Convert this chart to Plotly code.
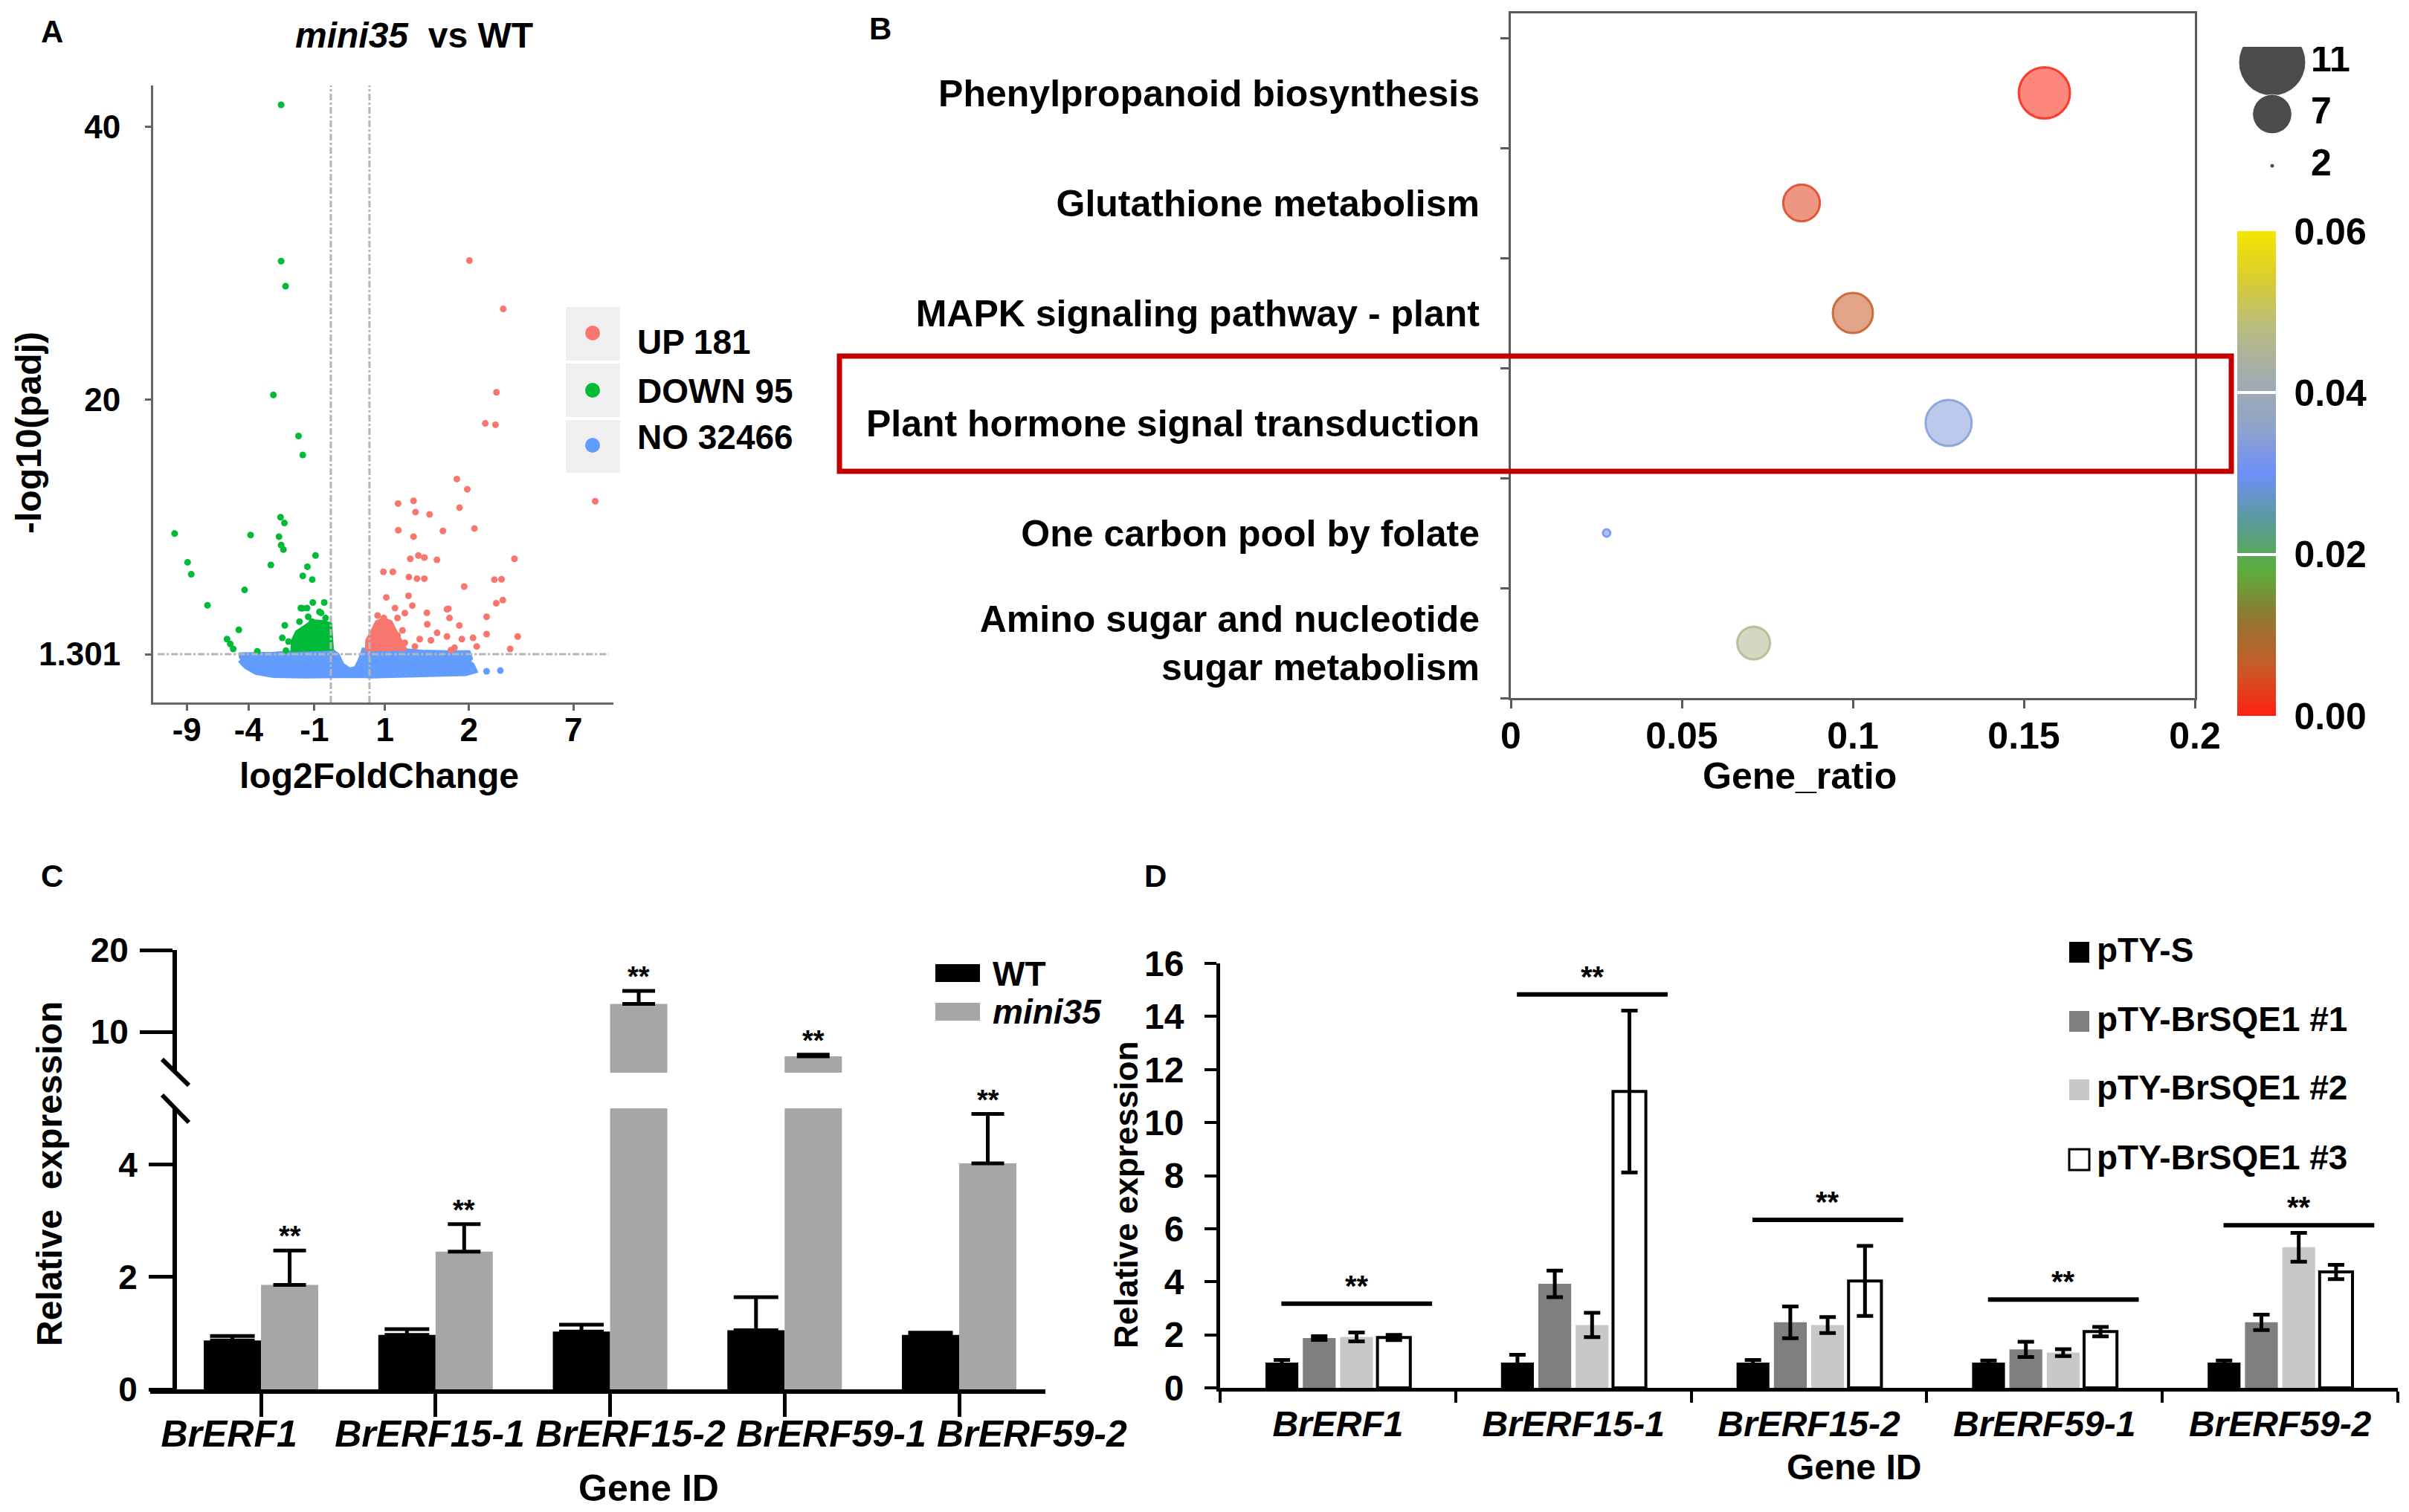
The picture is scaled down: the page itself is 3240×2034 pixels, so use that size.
import plotly.graph_objects as go

W, H = 3240, 2034
FONT = "Liberation Sans, Arial, sans-serif"

# ---------------- A: volcano plot, mini35 vs WT ----------------
# x = place on the drawn log2FoldChange axis (the dashed cut-offs are at -1 and 1)
# y = -log10(padj)
up_x = [6.17, 7.92, 7.57, 6.99, 7.52, 12.68, 5.52, 6.06, 5.66, 3.28, 2.48, 3.38, 4.11,
        2.49, 3.28, 4.80, 6.43, 3.11, 3.53, 3.84, 4.49, 8.50, 1.72, 2.21, 3.04, 3.46,
        3.84, 7.46, 7.83, 5.90, 1.87, 3.02, 7.56, 7.90, 5.08, 3.97, 2.32, 3.22, 1.42,
        1.74, 2.45, 2.83, 5.01, 5.14, 3.99, 5.65, 7.06, 7.06, 8.67, 8.28, 6.55, 6.36,
        5.78, 5.01, 4.50, 3.60, 4.18, 2.83, 3.35, 5.40, 2.71, 5.21, 2.45]
up_y = [30.19, 26.64, 20.52, 18.24, 18.14, 12.53, 14.16, 13.41, 12.06, 12.56, 12.36, 11.73, 11.56,
        10.40, 9.93, 10.35, 10.53, 8.30, 8.55, 8.40, 8.23, 8.30, 7.35, 7.35, 6.97, 6.85,
        6.85, 6.77, 6.80, 6.27, 5.47, 5.59, 5.04, 5.27, 4.64, 4.34, 4.69, 4.87, 4.14,
        3.96, 3.96, 4.32, 4.60, 3.96, 3.50, 3.41, 4.05, 2.78, 2.60, 1.69, 1.87, 2.50,
        2.41, 2.60, 2.87, 2.41, 2.32, 2.14, 1.87, 1.78, 3.05, 1.60, 2.69]
down_x = [-3.57, -3.57, -3.34, -3.97, -2.67, -2.45, -3.60, -3.40, -3.68, -3.57, -3.45, -5.15,
          -9.08, -8.41, -8.22, -4.10, -2.21, -1.79, -2.45, -1.96, -5.46, -7.38, -2.47, -1.93,
          -1.34, -1.51, -5.76, -6.37, -6.20, -6.05, -4.80, -3.38, -3.51, -3.32, -2.55, -2.23,
          -1.59, -2.17, -1.27, -2.62, -1.97, -1.46, -3.19, -2.74]
down_y = [41.62, 30.15, 28.31, 20.33, 17.32, 15.92, 11.36, 10.93, 9.93, 9.31, 8.98, 10.05,
          10.16, 8.05, 7.17, 7.85, 7.72, 8.55, 7.05, 6.78, 6.02, 4.89, 4.67, 5.10,
          5.10, 4.34, 3.09, 2.41, 2.05, 1.69, 1.51, 3.42, 2.50, 1.56, 4.69, 4.69,
          4.41, 4.05, 3.96, 3.69, 3.69, 3.50, 2.23, 1.96]
# outlines of the solid clouds where points merge
up_core_x = [0.91, 0.94, 1.17, 1.42, 1.74, 2.06, 2.32, 2.58, 2.83]
up_core_y = [1.50, 2.32, 2.87, 3.60, 3.78, 3.60, 2.87, 2.14, 1.56]
down_core_x = [-2.94, -2.91, -2.71, -2.30, -1.91, -1.40, -1.08, -0.99]
down_core_y = [1.45, 2.29, 2.87, 3.20, 3.63, 3.60, 3.45, 1.56]
no_band_x = [-5.76, -4.86, -3.96, -2.94, -1.01, -0.69, -0.44, -0.05, 0.33, 0.55, 0.72, 2.45,
             3.73, 5.01, 6.10, 6.19, 6.04, 6.30, 6.42, 5.97, 4.88, 3.73, 2.45, 1.17, 0.40,
             -0.63, -2.42, -3.96, -4.86, -5.37, -5.69]
no_band_y = [1.23, 1.20, 1.27, 1.38, 1.56, 1.23, 0.50, 0.10, 0.23, 0.87, 1.56, 1.56,
             1.41, 1.38, 1.38, 1.01, 0.78, 0.47, 0.10, -0.08, -0.13, -0.19, -0.26, -0.26, -0.22,
             -0.26, -0.26, -0.22, 0.00, 0.41, 0.90]
no_x = [-5.56, 7.06, 7.77]
no_y = [1.09, 0.05, 0.10]
vol_xticks = [-8.45, -5.25, -1.85, 1.8, 6.15, 11.55]
vol_xlabels = ["-9", "-4", "-1", "1", "2", "7"]
vol_yticks = [1.301, 20, 40]
vol_ylabels = ["1.301", "20", "40"]
fc_cut = [-1, 1]
padj_cut = 1.301
vol_groups = ["UP 181", "DOWN 95", "NO 32466"]

# ---------------- B: KEGG enrichment ----------------
pathways = ["Phenylpropanoid biosynthesis", "Glutathione metabolism",
            "MAPK signaling pathway - plant", "Plant hormone signal transduction",
            "One carbon pool by folate", "Amino sugar and nucleotide<br>sugar metabolism"]
gene_ratio = [0.156, 0.085, 0.100, 0.128, 0.028, 0.071]
gene_count = [11, 6, 7, 9, 2, 5]
pvalue = [0.0005, 0.0035, 0.006, 0.034, 0.030, 0.046]
ratio_ticks = [0, 0.05, 0.1, 0.15, 0.2]
ratio_labels = ["0", "0.05", "0.1", "0.15", "0.2"]
count_keys = [11, 7, 2]
p_ticks = [0, 0.02, 0.04, 0.06]
p_labels = ["0.00", "0.02", "0.04", "0.06"]

# ---------------- C: qPCR mini35 vs WT ----------------
genes = ["BrERF1", "BrERF15-1", "BrERF15-2", "BrERF59-1", "BrERF59-2"]
wt_mean = [0.87, 0.97, 1.03, 1.05, 0.97]
wt_err = [0.08, 0.10, 0.12, 0.59, 0.04]
mini_mean = [1.86, 2.45, 13.4, 7.0, 4.02]
mini_err = [0.61, 0.49, 1.6, 0.2, 0.88]
c_low_ticks = [0, 2, 4]
c_high_ticks = [10, 20]

# ---------------- D: qPCR silencing lines ----------------
lines_d = ["pTY-S", "pTY-BrSQE1 #1", "pTY-BrSQE1 #2", "pTY-BrSQE1 #3"]
d_mean = [[0.95, 0.95, 0.95, 0.95, 0.95],
          [1.88, 3.92, 2.47, 1.45, 2.47],
          [1.92, 2.37, 2.37, 1.33, 5.30],
          [1.90, 11.17, 4.03, 2.12, 4.37]]
d_err = [[0.10, 0.30, 0.10, 0.08, 0.08],
         [0.07, 0.50, 0.60, 0.29, 0.29],
         [0.17, 0.46, 0.30, 0.13, 0.54],
         [0.10, 3.05, 1.32, 0.18, 0.27]]
d_sig_y = [3.17, 14.83, 6.33, 3.33, 6.13]

# ---------------- helpers (pixel placement on the 3240x2034 page) ----------------
def fx(x):
    return x / W


def fy(y):
    return 1 - y / H


def xdom(a, b):
    return [a / W, b / W]


def ydom(top, bottom):
    return [1 - bottom / H, 1 - top / H]


def font(size, bold=True, italic=False, color="black"):
    return dict(family=FONT, size=size, color=color,
                weight="bold" if bold else "normal",
                style="italic" if italic else "normal")


def label(s, x, y, size, xa="center", ya="middle", angle=0, bold=True, italic=False):
    return dict(text=s, x=fx(x), y=fy(y), xref="paper", yref="paper", showarrow=False,
                xanchor=xa, yanchor=ya, textangle=angle, font=font(size, bold, italic))


UP, DOWN, NO = "#F8766D", "#00BA38", "#619CFF"
CS = [[0.0, "#ff2010"], [0.1, "#c85a28"], [0.2, "#927630"], [0.3, "#5cae3c"],
      [0.4, "#5a9a98"], [0.5, "#6e8ff8"], [0.6, "#90a4c8"], [0.7, "#a4acae"],
      [0.8, "#b8bc80"], [0.9, "#d8cc30"], [1.0, "#f5e600"]]


def bubble_size(n):
    return 10 + ((n - 2) / 9) ** 0.5 * 59


def key_size(n):
    return 6 + (n - 2) / 9 * 84


fig = go.Figure()

# ---- A traces
fig.add_trace(go.Scatter(x=no_band_x, y=no_band_y, mode="lines", fill="toself", fillcolor=NO,
                         line=dict(color=NO, width=8), xaxis="x", yaxis="y"))
fig.add_trace(go.Scatter(x=no_x, y=no_y, mode="markers", marker=dict(color=NO, size=9),
                         xaxis="x", yaxis="y"))
fig.add_trace(go.Scatter(x=down_core_x, y=down_core_y, mode="lines", fill="toself", fillcolor=DOWN,
                         line=dict(color=DOWN, width=8), xaxis="x", yaxis="y"))
fig.add_trace(go.Scatter(x=down_x, y=down_y, mode="markers", marker=dict(color=DOWN, size=9),
                         xaxis="x", yaxis="y"))
fig.add_trace(go.Scatter(x=up_core_x, y=up_core_y, mode="lines", fill="toself", fillcolor=UP,
                         line=dict(color=UP, width=8), xaxis="x", yaxis="y"))
fig.add_trace(go.Scatter(x=up_x, y=up_y, mode="markers", marker=dict(color=UP, size=9),
                         xaxis="x", yaxis="y"))

# ---- B traces
sizes = [bubble_size(n) for n in gene_count]
fig.add_trace(go.Scatter(
    x=gene_ratio, y=pathways, mode="markers", xaxis="x2", yaxis="y2",
    marker=dict(size=sizes, color=pvalue, colorscale=CS, cmin=0, cmax=0.06, opacity=0.55,
                line=dict(width=0), showscale=True,
                colorbar=dict(x=fx(3001), xanchor="left", y=fy(629), yanchor="middle",
                              len=652, lenmode="pixels", thickness=52, thicknessmode="pixels",
                              xpad=0, ypad=0, outlinewidth=0, tickvals=p_ticks,
                              ticktext=["\u00a0" + t for t in p_labels],
                              ticks="inside", ticklen=52, tickwidth=4, tickcolor="white",
                              tickfont=font(50)))))
fig.add_trace(go.Scatter(
    x=gene_ratio, y=pathways, mode="markers", xaxis="x2", yaxis="y2",
    marker=dict(symbol="circle-open", size=sizes, color=pvalue, colorscale=CS, cmin=0, cmax=0.06,
                opacity=0.85, line=dict(width=3), showscale=False)))
# size key
fig.add_trace(go.Scatter(x=[0.24] * len(count_keys), y=list(range(len(count_keys))), mode="markers",
                         marker=dict(size=[key_size(n) for n in count_keys], color="black"),
                         xaxis="x3", yaxis="y3"))
fig.add_trace(go.Scatter(x=[0.50] * len(count_keys), y=list(range(len(count_keys))), mode="text",
                         text=[str(n) for n in count_keys], textposition="middle right",
                         textfont=font(50), xaxis="x3", yaxis="y3"))

# ---- C traces (broken axis: lower and upper panels share the gene axis)
c_w = 0.328
c_split = 5
fig.add_trace(go.Bar(x=genes, y=wt_mean, width=c_w, offset=-c_w, marker=dict(color="black", line=dict(width=0)),
                     error_y=dict(type="data", array=wt_err, arrayminus=[0] * len(genes), symmetric=False,
                                  color="black", thickness=5, width=30),
                     xaxis="x4", yaxis="y4"))
fig.add_trace(go.Bar(x=genes, y=mini_mean, width=c_w, offset=0, marker=dict(color="#a6a6a6", line=dict(width=0)),
                     error_y=dict(type="data", array=mini_err, arrayminus=[0] * len(genes), symmetric=False,
                                  color="black", thickness=5, width=22),
                     xaxis="x4", yaxis="y4"))
# upper panel: only bars that pass the break keep their error bars
upper_err = [e if m > c_split else 0 for m, e in zip(mini_mean, mini_err)]
fig.add_trace(go.Bar(x=genes, y=mini_mean, width=c_w, offset=0, marker=dict(color="#a6a6a6", line=dict(width=0)),
                     error_y=dict(type="data", array=upper_err, arrayminus=[0] * len(genes), symmetric=False,
                                  color="black", thickness=5, width=22),
                     xaxis="x4", yaxis="y5"))
# gene names sit on a wider spacing than the bars in this panel
fig.add_trace(go.Scatter(x=[], y=[], xaxis="x6", yaxis="y4"))

# ---- D traces
d_colors = ["black", "#7f7f7f", "#c8c8c8", "white"]
slot = (1 - 0.366) / 4
d_w = slot * 0.88
for k, name in enumerate(lines_d):
    fig.add_trace(go.Bar(x=genes, y=d_mean[k], name=name, width=d_w,
                         offset=-2 * slot + k * slot + (slot - d_w) / 2,
                         marker=dict(color=d_colors[k], line=dict(color="black", width=4 if k == 3 else 0)),
                         error_y=dict(type="data", array=d_err[k], color="black", thickness=5, width=11),
                         xaxis="x5", yaxis="y6"))

# ---------------- shapes ----------------
shapes = []
for c in fc_cut:
    shapes.append(dict(type="line", xref="x", yref="y domain", x0=c, x1=c, y0=0, y1=1,
                       line=dict(color="#b5b5b5", width=3, dash="dashdot")))
shapes.append(dict(type="line", xref="x domain", yref="y", x0=0.01, x1=0.99, y0=padj_cut, y1=padj_cut,
                   line=dict(color="#b5b5b5", width=3, dash="dashdot")))
# A key
for i, col in enumerate([UP, DOWN, NO]):
    top, bot = [(405, 477), (481, 553), (557, 628)][i]
    shapes.append(dict(type="rect", xref="paper", yref="paper", x0=fx(753), x1=fx(826),
                       y0=fy(bot), y1=fy(top), fillcolor="#efefef", line=dict(width=0), layer="below"))
    cy = [440, 517, 591][i]
    shapes.append(dict(type="circle", xref="paper", yref="paper", xsizemode="pixel", ysizemode="pixel",
                       xanchor=fx(789), yanchor=fy(cy), x0=-10, x1=10, y0=-10, y1=10,
                       fillcolor=col, line=dict(width=0)))
# B highlight box
shapes.append(dict(type="rect", xref="paper", yref="paper", x0=fx(1121), x1=fx(2993),
                   y0=fy(626), y1=fy(471), line=dict(color="#c00000", width=7)))
# C axis break marks
shapes.append(dict(type="line", xref="paper", yref="paper", x0=fx(210), y0=fy(1417), x1=fx(246), y1=fy(1452),
                   line=dict(color="black", width=6)))
shapes.append(dict(type="line", xref="paper", yref="paper", x0=fx(210), y0=fy(1465), x1=fx(246), y1=fy(1502),
                   line=dict(color="black", width=6)))
# C key
for i, col in enumerate(["black", "#a6a6a6"]):
    top = [1289, 1341][i]
    shapes.append(dict(type="rect", xref="paper", yref="paper", x0=fx(1250), x1=fx(1310),
                       y0=fy(top + 24), y1=fy(top), fillcolor=col, line=dict(width=0)))
# D significance bars
for i, yv in enumerate(d_sig_y):
    shapes.append(dict(type="line", xref="x5", yref="y6", x0=i - 0.24, x1=i + 0.40, y0=yv, y1=yv,
                       line=dict(color="black", width=6)))
# D key
for k, col in enumerate(d_colors):
    cy = [1273, 1366, 1458, 1552][k]
    shapes.append(dict(type="rect", xref="paper", yref="paper", x0=fx(2775), x1=fx(2802),
                       y0=fy(cy + 14), y1=fy(cy - 14), fillcolor=col,
                       line=dict(color="black", width=3 if k == 3 else 0)))

# ---------------- annotations ----------------
ann = [
    label("A", 62, 34, 42), label("B", 1176, 31, 42), label("C", 62, 1170, 42), label("D", 1546, 1170, 42),
    label("<i>mini35</i>  vs WT", 549, 40, 48),
    label("log2FoldChange", 502, 1035, 48),
    label("-log10(padj)", 30, 574, 48, angle=-90),
    label("Gene_ratio", 2412, 1036, 50),
    label("Relative  expression", 58, 1571, 48, angle=-90),
    label("Gene ID", 864, 1994, 50),
    label("WT", 1325, 1302, 46, xa="left"),
    label("<i>mini35</i>", 1325, 1353, 46, xa="left"),
    label("Relative expression", 1506, 1600, 44, angle=-90),
    label("Gene ID", 2485, 1965, 48),
]
for i, g in enumerate(vol_groups):
    ann.append(label(g, 847, [452, 518, 580][i], 46, xa="left"))
for k, name in enumerate(lines_d):
    ann.append(label(name, 2810, [1270, 1363, 1455, 1549][k], 46, xa="left"))
for i, g in enumerate(genes):
    top = mini_mean[i] + mini_err[i]
    ann.append(dict(text="**", x=i + c_w / 2, y=top, xref="x4", yref="y5" if top > c_split else "y4",
                    showarrow=False, yanchor="bottom", yshift=-4, font=font(38)))
for i, yv in enumerate(d_sig_y):
    ann.append(dict(text="**", x=i + 0.08, y=yv, xref="x5", yref="y6", showarrow=False,
                    yanchor="bottom", yshift=0, font=font(40)))

a_axis = dict(showline=True, linecolor="#666", linewidth=3, ticks="outside", ticklen=8, tickwidth=3,
              tickcolor="#666", showgrid=False, zeroline=False, tickfont=font(44))
b_axis = dict(showline=True, mirror=True, linecolor="#5a5a5a", linewidth=3, ticks="outside", ticklen=11,
              tickwidth=3, tickcolor="#5a5a5a", showgrid=False, zeroline=False, tickfont=font(50))
blk = dict(showline=True, linecolor="black", ticks="outside", tickcolor="black",
           showgrid=False, zeroline=False)

fig.update_layout(
    width=W, height=H, margin=dict(l=0, r=0, t=0, b=0, autoexpand=False),
    paper_bgcolor="white", plot_bgcolor="white", showlegend=False,
    font=dict(family=FONT, color="black"), barmode="group",
    shapes=shapes, annotations=ann,
    xaxis=dict(domain=xdom(198, 817), anchor="y", range=[-10.19, 13.62], tickvals=vol_xticks,
               ticktext=vol_xlabels, ticklabelstandoff=-12, **a_axis),
    yaxis=dict(domain=ydom(107, 937), anchor="x", range=[-2.24, 43.04], tickvals=vol_yticks,
               ticktext=vol_ylabels, ticklabelstandoff=24, **a_axis),
    xaxis2=dict(domain=xdom(2024, 2944), anchor="y2", range=[0, 0.2], tickvals=ratio_ticks,
                ticktext=ratio_labels, ticklabelstandoff=-6, **b_axis),
    yaxis2=dict(domain=ydom(10, 931), anchor="x2", type="category", categoryorder="array",
                categoryarray=pathways[::-1], range=[-0.5, 5.723], tickson="boundaries",
                ticklabelstandoff=29, **b_axis),
    xaxis3=dict(domain=xdom(3000, 3200), anchor="y3", range=[0, 1], visible=False),
    yaxis3=dict(domain=ydom(55, 236), anchor="x3", range=[2.3, -0.3], visible=False),
    xaxis4=dict(domain=xdom(194, 1398), anchor="y4", type="category", range=[-0.635, 4.494],
                linewidth=6, ticklen=31, tickwidth=5, showticklabels=False, **blk),
    xaxis6=dict(overlaying="x4", anchor="y4", side="bottom", range=[-0.393, 4.067],
                tickvals=list(range(len(genes))), ticktext=genes, showline=False, ticks="",
                showgrid=False, zeroline=False, tickangle=0, tickfont=font(50, italic=True),
                ticklabelstandoff=26),
    yaxis4=dict(domain=ydom(1483, 1861), anchor="free", position=fx(227), range=[0, c_split],
                tickvals=c_low_ticks, linewidth=6, ticklen=32, tickwidth=5, tickfont=font(46),
                ticklabelstandoff=6, **blk),
    yaxis5=dict(domain=ydom(1270, 1435), anchor="free", position=fx(227), range=[c_split, 20],
                tickvals=c_high_ticks, linewidth=6, ticklen=44, tickwidth=5, tickfont=font(46),
                ticklabelstandoff=6, **blk),
    xaxis5=dict(domain=xdom(1633, 3217), anchor="y6", type="category", range=[-0.5, 4.5],
                tickson="boundaries", linewidth=5, ticklen=15, tickwidth=4, tickangle=0,
                tickfont=font(48, italic=True), ticklabelstandoff=2, **blk),
    yaxis6=dict(domain=ydom(1288, 1859), anchor="x5", range=[0, 16], dtick=2, linewidth=5,
                ticklen=16, tickwidth=4, tickfont=font(48), ticklabelstandoff=18, **blk),
)

fig.write_html("out.html")
